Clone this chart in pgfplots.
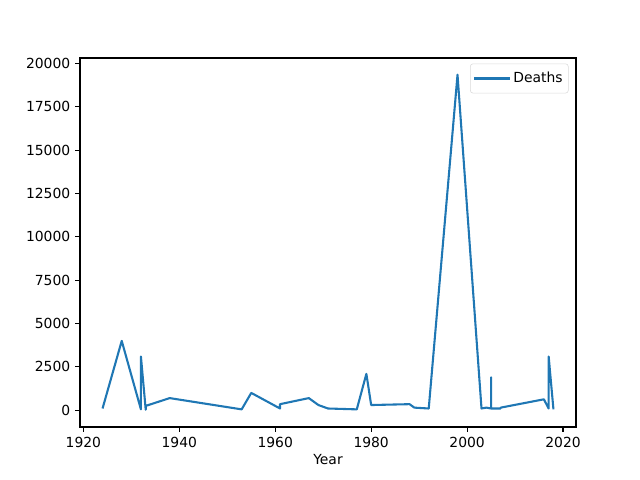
\documentclass[border=0pt]{standalone}
\usepackage{pgfplots}
\pgfplotsset{compat=1.18}
\usepackage{fontspec}
\setmainfont{DejaVu Sans}
\definecolor{tabblue}{HTML}{1F77B4}
\begin{document}
\begin{tikzpicture}[x=1pt,y=1pt]
\path[use as bounding box] (-57.6,-38.16) rectangle (403.2,307.44);
\begin{axis}[
  at={(0,0)}, anchor=south west,
  scale only axis, width=357.12pt, height=265.68pt,
  xmin=1919.3, xmax=2022.7, ymin=-967, ymax=20317,
  xtick={1920,1940,1960,1980,2000,2020},
  ytick={0,2500,5000,7500,10000,12500,15000,17500,20000},
  /pgf/number format/assume math mode=true,
  /pgf/number format/1000 sep={},
  scaled y ticks=false,
  tick align=outside, tick pos=left,
  major tick length=3.5pt,
  tick style={black, line width=0.8pt},
  axis line style={line width=0.8pt},
  ticklabel style={font=\fontsize{10}{12}\selectfont},
  xlabel={Year}, xlabel style={font=\fontsize{10}{12}\selectfont, yshift=2pt},
  legend style={font=\fontsize{10}{12}\selectfont, draw=black!15, rounded corners=2pt, inner xsep=2pt, inner ysep=4pt, at={(0.985,0.985)}, anchor=north east},
  legend cell align=left,
  legend image code/.code={\path (0cm,0cm) -- (0.9cm,0cm); \draw[#1, line width=1.5pt] (0.1cm,0cm) -- (0.7cm,0cm);},
]
\addplot[color=tabblue, line width=1.5pt, line join=round] coordinates {
(1924,100) (1928,4000) (1932,50) (1932,3100) (1933,30) (1933,250)
(1938,700) (1953,50) (1955,1000) (1961,100) (1961,350) (1967,700)
(1969,300) (1971,100) (1977,50) (1979,2100) (1980,300) (1988,350)
(1989,150) (1992,100) (1998,19350) (2003,100) (2004,150) (2005,100)
(2005,1900) (2005,100) (2007,100) (2007,150) (2016,630) (2017,100)
(2017,3100) (2018,50)
};
\addlegendentry{Deaths}
\end{axis}
\end{tikzpicture}
\end{document}
